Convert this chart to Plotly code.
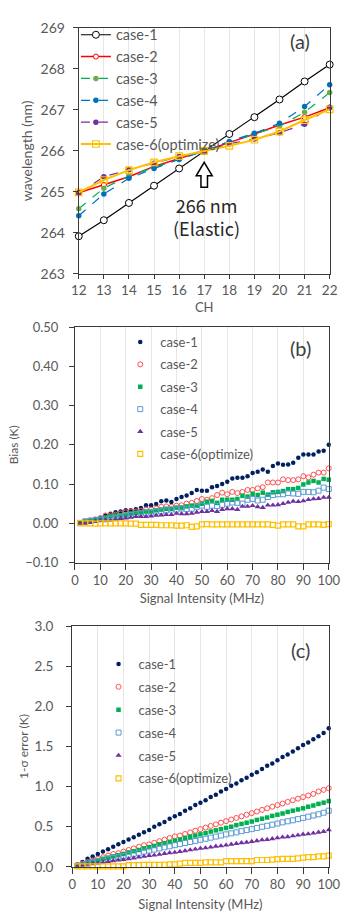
import plotly.graph_objects as go

# ---------------- Data ----------------
ch = [12, 13, 14, 15, 16, 17, 18, 19, 20, 21, 22]
wl_case1 = [263.92, 264.31, 264.73, 265.15, 265.57, 266.0, 266.41, 266.82, 267.25, 267.69, 268.10]
wl_case2 = [264.98, 265.17, 265.37, 265.62, 265.81, 266.0, 266.20, 266.41, 266.63, 266.82, 267.05]
wl_case3 = [264.59, 265.09, 265.39, 265.60, 265.80, 266.0, 266.21, 266.41, 266.60, 266.94, 267.42]
wl_case4 = [264.42, 264.95, 265.33, 265.57, 265.79, 266.0, 266.23, 266.43, 266.67, 267.08, 267.61]
wl_case5 = [264.96, 265.37, 265.54, 265.70, 265.86, 266.0, 266.17, 266.29, 266.44, 266.65, 267.06]
wl_case6 = [264.99, 265.29, 265.53, 265.72, 265.87, 266.0, 266.12, 266.27, 266.47, 266.75, 267.01]

sig = list(range(2, 101, 2))

bias_case1 = [0.001, 0.004, 0.007, 0.010, 0.014, 0.020, 0.024, 0.028, 0.030, 0.033,
              0.033, 0.036, 0.039, 0.046, 0.046, 0.049, 0.056, 0.058, 0.054, 0.062,
              0.067, 0.071, 0.077, 0.085, 0.083, 0.083, 0.092, 0.095, 0.100, 0.106,
              0.114, 0.116, 0.116, 0.120, 0.128, 0.131, 0.137, 0.131, 0.146, 0.152,
              0.149, 0.150, 0.154, 0.167, 0.175, 0.175, 0.175, 0.183, 0.185, 0.200]
bias_case2 = [0.001, 0.005, 0.008, 0.010, 0.013, 0.020, 0.020, 0.022, 0.025, 0.028,
              0.030, 0.030, 0.032, 0.035, 0.035, 0.038, 0.042, 0.043, 0.042, 0.045,
              0.046, 0.050, 0.052, 0.057, 0.062, 0.060, 0.064, 0.072, 0.078, 0.074,
              0.080, 0.077, 0.080, 0.085, 0.085, 0.089, 0.092, 0.104, 0.104, 0.104,
              0.112, 0.110, 0.110, 0.112, 0.120, 0.117, 0.124, 0.129, 0.129, 0.140]
bias_case3 = [0.000, 0.004, 0.006, 0.008, 0.012, 0.015, 0.018, 0.020, 0.020, 0.022,
              0.025, 0.027, 0.028, 0.030, 0.030, 0.033, 0.035, 0.037, 0.037, 0.040,
              0.040, 0.043, 0.045, 0.045, 0.050, 0.055, 0.057, 0.052, 0.060, 0.060,
              0.060, 0.062, 0.070, 0.068, 0.075, 0.072, 0.078, 0.073, 0.079, 0.080,
              0.082, 0.087, 0.087, 0.090, 0.099, 0.104, 0.108, 0.104, 0.113, 0.111]
bias_case4 = [0.000, 0.005, 0.006, 0.008, 0.010, 0.010, 0.012, 0.014, 0.016, 0.019,
              0.021, 0.023, 0.025, 0.027, 0.027, 0.030, 0.030, 0.033, 0.035, 0.035,
              0.038, 0.036, 0.037, 0.042, 0.045, 0.042, 0.045, 0.044, 0.047, 0.050,
              0.053, 0.052, 0.050, 0.060, 0.062, 0.058, 0.060, 0.067, 0.072, 0.074,
              0.074, 0.077, 0.076, 0.075, 0.080, 0.080, 0.079, 0.083, 0.091, 0.087]
bias_case5 = [0.000, 0.000, 0.002, 0.005, 0.007, 0.008, 0.008, 0.010, 0.012, 0.013,
              0.015, 0.017, 0.017, 0.017, 0.018, 0.020, 0.021, 0.022, 0.022, 0.025,
              0.024, 0.024, 0.025, 0.028, 0.030, 0.030, 0.032, 0.030, 0.035, 0.037,
              0.037, 0.035, 0.043, 0.043, 0.045, 0.042, 0.040, 0.046, 0.046, 0.047,
              0.050, 0.053, 0.056, 0.055, 0.057, 0.060, 0.062, 0.063, 0.066, 0.066]
bias_case6 = [0.001, 0.000, 0.000, -0.001, 0.000, 0.000, 0.000, 0.000, 0.000, 0.000,
              -0.001, -0.001, -0.004, -0.004, -0.004, -0.004, -0.005, -0.005, -0.005, -0.006,
              -0.006, -0.005, -0.009, -0.008, -0.003, -0.002, -0.003, -0.003, -0.003, -0.003,
              -0.003, -0.003, -0.003, -0.003, -0.003, -0.003, -0.003, -0.003, -0.004, -0.006,
              -0.003, -0.003, -0.003, -0.008, -0.008, -0.003, -0.003, -0.003, -0.004, -0.002]

err_case1 = [0.03, 0.06, 0.10, 0.13, 0.16, 0.19, 0.22, 0.25, 0.28, 0.31,
             0.34, 0.37, 0.40, 0.43, 0.46, 0.50, 0.53, 0.56, 0.60, 0.63,
             0.66, 0.70, 0.73, 0.77, 0.80, 0.83, 0.87, 0.90, 0.94, 0.97,
             1.01, 1.04, 1.08, 1.11, 1.15, 1.18, 1.22, 1.26, 1.29, 1.33,
             1.37, 1.40, 1.44, 1.48, 1.52, 1.55, 1.59, 1.63, 1.67, 1.73]
err_case2 = [0.02, 0.04, 0.06, 0.08, 0.10, 0.12, 0.14, 0.16, 0.17, 0.19,
             0.21, 0.23, 0.25, 0.27, 0.28, 0.30, 0.32, 0.34, 0.36, 0.38,
             0.39, 0.41, 0.43, 0.45, 0.47, 0.49, 0.51, 0.53, 0.55, 0.57,
             0.59, 0.61, 0.63, 0.65, 0.67, 0.69, 0.71, 0.73, 0.75, 0.77,
             0.79, 0.81, 0.83, 0.85, 0.87, 0.89, 0.91, 0.94, 0.96, 0.98]
err_case3 = [0.015, 0.03, 0.05, 0.065, 0.08, 0.10, 0.115, 0.13, 0.145, 0.16,
             0.18, 0.195, 0.21, 0.23, 0.245, 0.26, 0.28, 0.295, 0.31, 0.325,
             0.34, 0.36, 0.375, 0.39, 0.405, 0.42, 0.44, 0.455, 0.47, 0.485,
             0.50, 0.52, 0.535, 0.55, 0.565, 0.585, 0.60, 0.615, 0.635, 0.65,
             0.665, 0.685, 0.70, 0.715, 0.73, 0.75, 0.765, 0.785, 0.80, 0.82]
err_case4 = [0.013, 0.027, 0.04, 0.055, 0.068, 0.08, 0.095, 0.11, 0.122, 0.135,
             0.15, 0.162, 0.175, 0.19, 0.202, 0.215, 0.23, 0.243, 0.256, 0.27,
             0.283, 0.297, 0.31, 0.323, 0.337, 0.35, 0.364, 0.377, 0.39, 0.405,
             0.418, 0.43, 0.445, 0.458, 0.47, 0.485, 0.50, 0.512, 0.525, 0.54,
             0.555, 0.568, 0.58, 0.595, 0.61, 0.625, 0.64, 0.655, 0.675, 0.70]
err_case5 = [0.005, 0.02, 0.03, 0.04, 0.045, 0.055, 0.065, 0.075, 0.085, 0.09,
             0.10, 0.11, 0.12, 0.13, 0.14, 0.145, 0.155, 0.165, 0.175, 0.18,
             0.19, 0.20, 0.21, 0.22, 0.23, 0.235, 0.245, 0.255, 0.26, 0.27,
             0.28, 0.29, 0.30, 0.305, 0.315, 0.325, 0.335, 0.34, 0.35, 0.36,
             0.37, 0.375, 0.385, 0.395, 0.405, 0.41, 0.42, 0.43, 0.44, 0.46]
err_case6 = [0.005, 0.005, 0.005, 0.005, 0.005, 0.005, 0.005, 0.005, 0.005, 0.005,
             0.02, 0.02, 0.02, 0.025, 0.025, 0.025, 0.025, 0.025, 0.03, 0.03,
             0.04, 0.05, 0.05, 0.05, 0.05, 0.055, 0.055, 0.055, 0.055, 0.07,
             0.07, 0.07, 0.07, 0.07, 0.07, 0.085, 0.085, 0.085, 0.09, 0.095,
             0.10, 0.10, 0.10, 0.105, 0.115, 0.12, 0.12, 0.13, 0.13, 0.14]

case_names = ["case-1", "case-2", "case-3", "case-4", "case-5", "case-6(optimize)"]

# ---------------- Styles ----------------
FONT = "Lato, 'Noto Sans', sans-serif"
GRAY = "#595959"
FRAME = "#3a3a3a"
GRID = "#e6e6e6"
W, H = 353, 918

fig = go.Figure()

# Panel (a)
a_styles = [
    dict(line=dict(color="#000000", width=1.2), marker=dict(symbol="circle", size=7, color="white", line=dict(color="#000000", width=1))),
    dict(line=dict(color="#ff0000", width=1.5), marker=dict(symbol="circle", size=5, color="white", line=dict(color="#ff0000", width=1))),
    dict(line=dict(color="#00b050", width=1.2, dash="dash"), marker=dict(symbol="circle", size=5.5, color="#70ad47", line=dict(width=0))),
    dict(line=dict(color="#0070c0", width=1.2, dash="dash"), marker=dict(symbol="circle", size=5.5, color="#0070c0", line=dict(width=0))),
    dict(line=dict(color="#7030a0", width=1.2, dash="dash"), marker=dict(symbol="circle", size=5.5, color="#7030a0", line=dict(width=0))),
    dict(line=dict(color="#ffc000", width=2), marker=dict(symbol="square", size=6.5, color="rgba(255,255,255,0)", line=dict(color="#ffc000", width=1.2))),
]
a_data = [wl_case1, wl_case2, wl_case3, wl_case4, wl_case5, wl_case6]
for i, (name, ys, st) in enumerate(zip(case_names, a_data, a_styles)):
    fig.add_trace(go.Scatter(x=ch, y=ys, name=name, mode="lines+markers", cliponaxis=False,
                             xaxis="x", yaxis="y", legend="legend", legendgroup=f"a{i}", **st))

# Panels (b) and (c)
bc_markers = [
    dict(symbol="circle", size=4.5, color="#002060", line=dict(width=0)),
    dict(symbol="circle-open", size=5, color="#ff5050", line=dict(width=1)),
    dict(symbol="square", size=4.5, color="#00b050", line=dict(width=0)),
    dict(symbol="square-open", size=5, color="#5b9bd5", line=dict(width=1)),
    dict(symbol="triangle-up", size=5.5, color="#7030a0", line=dict(width=0)),
    dict(symbol="square-open", size=5, color="#ffc000", line=dict(width=1.2)),
]
b_data = [bias_case1, bias_case2, bias_case3, bias_case4, bias_case5, bias_case6]
c_data = [err_case1, err_case2, err_case3, err_case4, err_case5, err_case6]
for i, (name, ys, mk) in enumerate(zip(case_names, b_data, bc_markers)):
    fig.add_trace(go.Scatter(x=sig, y=ys, name=name, mode="markers", marker=mk, cliponaxis=False,
                             xaxis="x2", yaxis="y2", legend="legend2", legendgroup=f"b{i}"))
for i, (name, ys, mk) in enumerate(zip(case_names, c_data, bc_markers)):
    fig.add_trace(go.Scatter(x=sig, y=ys, name=name, mode="markers", marker=mk, cliponaxis=False,
                             xaxis="x3", yaxis="y3", legend="legend3", legendgroup=f"c{i}"))

def xax(domain, anchor, rng, dtick, title, fs, tfs, tl, so):
    return dict(domain=domain, anchor=anchor, range=rng, dtick=dtick, tick0=0,
                showgrid=True, gridcolor=GRID, gridwidth=1, zeroline=False,
                showline=True, linecolor=FRAME, linewidth=1, mirror=True,
                ticks="outside", ticklen=tl, tickcolor=FRAME,
                tickfont=dict(family=FONT, size=fs, color=GRAY),
                title=dict(text=title, font=dict(family=FONT, size=tfs, color=GRAY), standoff=so))

def yax(domain, anchor, rng, dtick, fmt, title, fs, tfs, so, lso):
    return dict(domain=domain, anchor=anchor, range=rng, dtick=dtick, tickformat=fmt,
                showgrid=False, zeroline=False,
                showline=True, linecolor=FRAME, linewidth=1, mirror=True,
                ticks="outside", ticklen=5, tickcolor=FRAME, ticklabelstandoff=lso,
                tickfont=dict(family=FONT, size=fs, color=GRAY),
                title=dict(text=title, font=dict(family=FONT, size=tfs, color=GRAY), standoff=so))

def leg(xp, yp, fs, gap):
    return dict(x=xp / W, y=1 - yp / H, xanchor="left", yanchor="top", bgcolor="rgba(0,0,0,0)",
                font=dict(family=FONT, size=fs, color=GRAY), itemwidth=30, tracegroupgap=gap)

fig.update_layout(
    width=W, height=H,
    margin=dict(l=0, r=0, t=0, b=0),
    paper_bgcolor="white", plot_bgcolor="white",
    font=dict(family=FONT, color=GRAY),
    xaxis=xax([75 / W, 341 / W], "y", [12, 22], 1, "CH", 13.5, 13, 4, 5),
    yaxis=yax([1 - 270 / H, 1 - 19 / H], "x", [263, 269], 1, "d", "wavelength (nm)", 14, 14, 4, 5),
    xaxis2=xax([71 / W, 340 / W], "y2", [0, 100], 10, "Signal Intensity (MHz)", 13, 13, 6, 6),
    yaxis2=yax([1 - 564 / H, 1 - 324 / H], "x2", [-0.1, 0.5], 0.1, ".2f", "Bias (K)", 13, 12, 3, 8),
    xaxis3=xax([68 / W, 340 / W], "y3", [0, 100], 10, "Signal Intensity (MHz)", 13, 13, 6, 8),
    yaxis3=yax([1 - 874 / H, 1 - 629 / H], "x3", [0, 3.0], 0.5, ".1f", "1-σ error (K)", 13.5, 12, 3, 10),
    legend=leg(72, 10, 14.5, 0),
    legend2=leg(119, 324, 13, 2.5),
    legend3=leg(96, 652, 13, 3),
    showlegend=True,
)

# Panel labels
for txt, yp in [("(a)", 33), ("(b)", 345), ("(c)", 653)]:
    fig.add_annotation(text=txt, xref="paper", yref="paper", x=310 / W, y=1 - yp / H,
                       xanchor="center", yanchor="middle", showarrow=False,
                       font=dict(family=FONT, size=20, color="#404040"))

# Elastic annotation with hollow arrow
fig.add_shape(type="path", xref="x", yref="y",
              path="M 17,265.72 L 17.32,265.39 L 17.13,265.39 L 17.13,265.11 L 16.87,265.11 L 16.87,265.39 L 16.68,265.39 Z",
              line=dict(color="#000000", width=1.5), fillcolor="white")
CJK = "'Noto Sans CJK JP', 'Noto Sans', sans-serif"
fig.add_annotation(text="266 nm<br>(Elastic)", xref="x", yref="y", x=17.1, y=264.39, showarrow=False,
                   align="center", font=dict(family=CJK, size=18, color="#262626"))

fig.write_html("out.html", config={"displayModeBar": False},
               post_script="document.body.style.margin='0';")
